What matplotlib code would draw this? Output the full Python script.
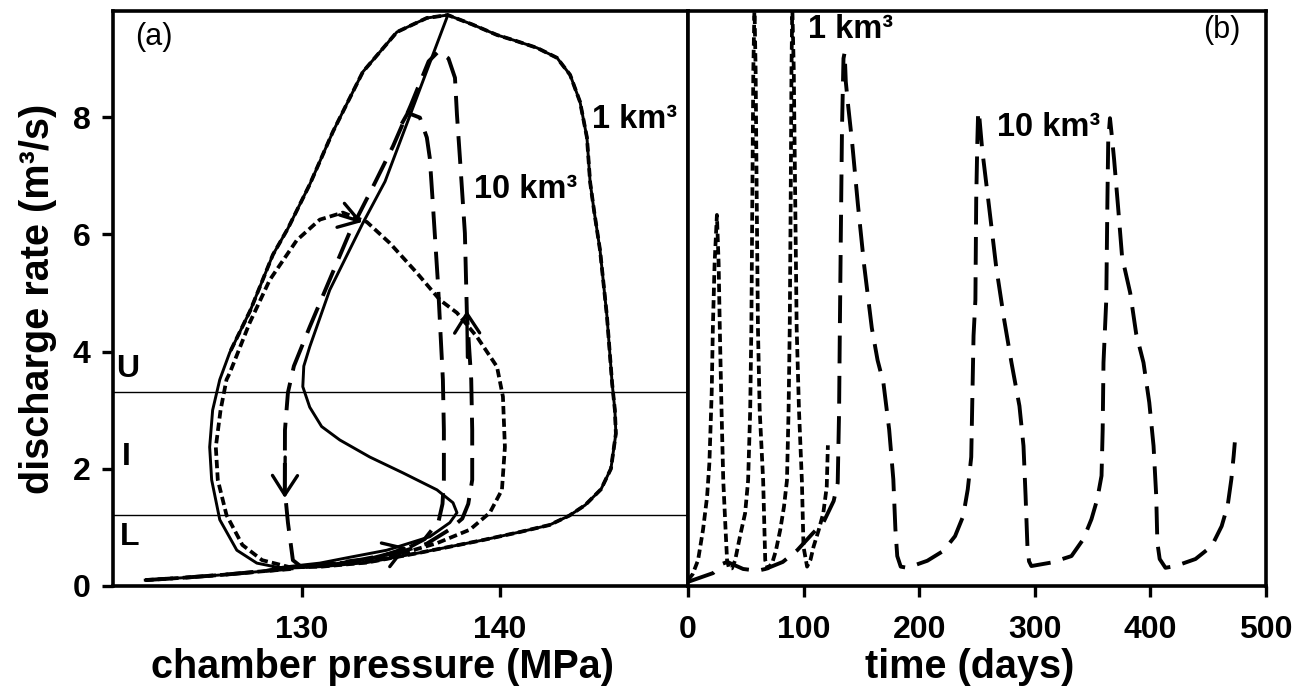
import numpy as np
import matplotlib
matplotlib.use("Agg")
import matplotlib.pyplot as plt

plt.rcParams["font.family"] = ["Liberation Sans", "DejaVu Sans"]
plt.rcParams["font.weight"] = "bold"
plt.rcParams["axes.labelweight"] = "bold"
plt.rcParams["lines.scale_dashes"] = False

# ---------- (a) phase plane: chamber pressure (MPa) vs discharge rate (m3/s) ----------
# slow recharge along the bottom of the plane
bottom_p = [122.1, 124.0, 126.0, 128.0, 129.5, 131.0, 133.3, 136.0, 139.1, 141.0, 142.5, 143.5, 144.3, 145.1, 145.6, 145.85]
bottom_q = [0.10, 0.14, 0.19, 0.25, 0.29, 0.33, 0.40, 0.57, 0.78, 0.92, 1.04, 1.20, 1.38, 1.65, 2.00, 2.60]
# right flank and top of the large cycle, ending at the peak
outer_p = [145.85, 145.8, 145.66, 145.4, 145.05, 144.75, 144.55, 144.39, 144.04, 143.54, 142.88, 141.87, 140.8, 139.85, 138.6, 137.37]
outer_q = [2.60, 3.00, 3.46, 4.60, 5.73, 6.40, 6.89, 7.65, 8.26, 8.72, 9.01, 9.18, 9.30, 9.40, 9.58, 9.74]
# left flank of the large cycle (peak back down to the bottom)
left_p = [137.37, 136.31, 134.80, 133.08, 131.57, 130.4, 129.3, 128.54, 127.4, 126.36, 125.86, 125.5, 125.35, 125.45, 125.86, 126.72, 127.73, 129.04]
left_q = [9.74, 9.69, 9.45, 8.77, 7.75, 6.85, 6.10, 5.65, 4.70, 3.98, 3.52, 3.00, 2.37, 1.81, 1.13, 0.61, 0.39, 0.30]
# solid run: start-up transient before joining the large cycle
trans_p = [129.04, 130.91, 132.27, 134.29, 136.46, 137.47, 137.83, 137.63, 136.82, 135.10, 133.43, 131.92, 131.0, 130.4, 130.05, 130.1, 130.40, 131.41, 133.08, 134.2, 137.37]
trans_q = [0.32, 0.39, 0.48, 0.61, 0.84, 1.08, 1.25, 1.42, 1.64, 1.93, 2.20, 2.49, 2.72, 3.05, 3.40, 3.75, 4.08, 5.05, 6.19, 6.90, 9.74]
# 1 km3 run: first small cycle and its inner left flank
small_p = [129.4, 131.0, 133.43, 135.10, 136.82, 138.48, 139.49, 140.10, 140.25, 140.15, 139.85, 138.84, 137.83, 136.97, 135.81, 134.44, 133.28, 132.07, 130.91, 129.75, 128.38, 127.37, 126.36]
small_q = [0.32, 0.36, 0.44, 0.56, 0.73, 0.96, 1.25, 1.64, 2.37, 3.23, 3.74, 4.25, 4.66, 4.88, 5.34, 5.85, 6.21, 6.37, 6.25, 5.90, 5.22, 4.49, 3.63]
inner_p = [126.2, 125.9, 125.66, 125.76, 126.2, 127.0, 128.0, 129.4]
inner_q = [3.52, 3.00, 2.37, 1.81, 1.21, 0.70, 0.44, 0.32]
# 10 km3 run: two rising branches and the shared falling diagonal
rise1_p = [122.1, 124.0, 126.0, 128.0, 129.5, 131.0, 133.0, 135.0, 136.3, 137.4, 138.1, 138.4, 138.6, 138.6, 138.55, 138.33, 138.23, 137.98, 137.83, 137.73, 137.4, 136.9]
rise1_q = [0.10, 0.14, 0.19, 0.25, 0.30, 0.36, 0.45, 0.58, 0.72, 0.95, 1.15, 1.40, 1.81, 2.66, 3.52, 4.66, 6.02, 7.30, 8.04, 8.67, 9.00, 9.12]
diag_p = [136.4, 135.5, 134.6, 133.59, 132.4, 131.4, 130.4, 129.6, 129.3, 129.15, 129.14, 129.3, 129.55, 130.0]
diag_q = [8.95, 8.20, 7.50, 6.81, 6.02, 5.22, 4.42, 3.75, 3.30, 2.66, 1.64, 1.08, 0.44, 0.32]
rise2_p = [131.5, 133.5, 135.2, 136.2, 136.9, 137.1, 137.17, 137.17, 137.12, 136.87, 136.6, 136.46, 136.31, 135.96, 135.35, 134.9]
rise2_q = [0.36, 0.47, 0.62, 0.80, 1.10, 1.40, 1.81, 2.66, 3.52, 5.17, 6.59, 7.30, 7.65, 7.99, 8.07, 7.80]

U_LEVEL = 3.31
L_LEVEL = 1.21

# ---------- (b) discharge rate through time ----------
t_1km = [0, 4, 8.7, 13, 16.5, 18.5, 20.5, 21.5, 23, 25, 26.5, 27.5, 29, 30.5, 32.5, 33.8, 35.5,
         38, 40.8, 45, 49.4, 52, 53.8, 54.8, 55.6, 56.5, 57.5, 58.5, 59.5, 60.5, 62, 65, 66.8, 69,
         72.8, 76, 79.8, 83, 85.6, 87, 88, 88.8, 89.5, 90.2, 91.5, 92.8, 94, 96, 98.5, 99.9, 103,
         106, 108.6, 113, 117, 120, 121]
q_1km = [0.10, 0.20, 0.44, 0.96, 1.52, 2.10, 3.30, 4.40, 5.50, 6.33, 5.50, 4.40, 3.00, 1.80, 0.96, 0.44, 0.30,
         0.30, 0.44, 0.85, 1.24, 1.80, 3.00, 4.40, 6.50, 8.80, 9.90, 8.80, 6.50, 4.40, 3.00, 1.80, 0.44, 0.30,
         0.39, 0.60, 0.96, 1.35, 1.80, 3.00, 4.40, 6.50, 8.80, 9.90, 8.80, 6.50, 4.40, 3.00, 1.80, 0.67, 0.33,
         0.45, 0.67, 0.95, 1.24, 1.69, 2.40]
t_10km = [0, 21.7, 30, 34, 47.7, 60, 67, 82, 94.5, 108, 117, 126, 129.5, 130.7, 131.3, 132.2, 133.2, 134.5, 135.5,
          136.5, 138.5, 142, 147, 152.3, 159, 164, 169, 174, 177.6, 179.4, 181, 184, 189.7, 207, 221, 231, 238,
          242, 245, 246, 247, 248.6, 249.3, 250.3, 251, 252, 254.5, 259.7, 266.6, 273.5, 279.8, 286.7, 290.2,
          292, 293.6, 295, 297, 314.4, 331.7, 342, 349, 354, 357.7, 358.7, 359.4, 361.8, 362.8, 363.5, 365,
          366.5, 368.6, 372, 375.5, 382.5, 387.7, 394, 399, 402.7, 405, 406, 408, 413, 421.7, 439, 453, 461.6,
          466.8, 470, 472, 473]
q_10km = [0.07, 0.22, 0.38, 0.41, 0.29, 0.26, 0.29, 0.41, 0.61, 0.90, 1.08, 1.45, 1.76, 3.00, 4.30, 6.00, 7.80, 9.00, 9.10,
          8.60, 8.20, 7.56, 6.50, 5.48, 4.40, 3.85, 3.47, 2.67, 1.82, 0.97, 0.51, 0.33, 0.31, 0.43, 0.60, 0.85, 1.19,
          1.65, 2.20, 3.24, 4.27, 4.88, 6.59, 7.60, 8.10, 8.00, 7.44, 6.59, 5.44, 4.54, 3.81, 3.07, 2.39,
          1.54, 0.68, 0.42, 0.34, 0.40, 0.51, 0.80, 1.14, 1.48, 1.88, 2.67, 3.81, 4.88, 6.59, 7.60, 7.98,
          7.70, 7.27, 6.47, 5.61, 5.00, 4.30, 3.81, 3.13, 2.39, 1.54, 0.74, 0.46, 0.31, 0.34, 0.46, 0.68, 1.02,
          1.37, 1.82, 2.22, 2.45]

SOLID = dict(color="k", lw=2.1, solid_joinstyle="round")
SHORT = dict(color="k", lw=2.7, dashes=(6, 3))
LONG = dict(color="k", lw=2.8, dashes=(20, 9))


def join(*parts):
    return np.concatenate([np.asarray(p, float) for p in parts])


fig = plt.figure(figsize=(13.06, 6.88), dpi=100)
axa = fig.add_axes([0.0865, 0.1483, 0.4403, 0.8358])
axb = fig.add_axes([0.5268, 0.1483, 0.4426, 0.8358])

# solid run: recharge, transient, then once round the large cycle
solid_p = join(bottom_p[:4], trans_p, left_p[1:], bottom_p[5:], outer_p[1:])
solid_q = join(bottom_q[:4], trans_q, left_q[1:], bottom_q[5:], outer_q[1:])
axa.plot(solid_p, solid_q, **SOLID)

# 1 km3 run: small cycle, then the large cycle (each stretch drawn once)
short_p = join(bottom_p[:5], small_p, inner_p, bottom_p[5:], outer_p[1:], left_p[1:10])
short_q = join(bottom_q[:5], small_q, inner_q, bottom_q[5:], outer_q[1:], left_q[1:10])
axa.plot(short_p, short_q, **SHORT)

# 10 km3 run: first rise and fall, then the later rising branch
axa.plot(join(rise1_p, diag_p), join(rise1_q, diag_q), **LONG)
axa.plot(rise2_p, rise2_q, **LONG)

axa.axhline(U_LEVEL, color="k", lw=1.0)
axa.axhline(L_LEVEL, color="k", lw=1.0)

arrow = dict(arrowstyle="->,head_length=0.7,head_width=0.45", lw=2.4, color="k",
             mutation_scale=20, shrinkA=0, shrinkB=0)
for tip, tail in [((129.14, 1.50), (129.16, 2.20)),
                  ((138.33, 4.70), (138.36, 3.90)),
                  ((133.05, 6.21), (131.9, 6.33)),
                  ((135.3, 0.66), (133.8, 0.48))]:
    axa.annotate("", xy=tip, xytext=tail, arrowprops=arrow)

axa.text(122.55, 9.37, "(a)", fontsize=22, fontweight="normal", ha="center", va="center")
axa.text(144.65, 7.95, "1 km³", fontsize=23.5, ha="left", va="center")
axa.text(138.7, 6.76, "10 km³", fontsize=23.5, ha="left", va="center")
axa.text(121.2, 3.70, "U", fontsize=23, ha="center", va="center")
axa.text(121.16, 2.20, "I", fontsize=23, ha="center", va="center")
axa.text(121.3, 0.84, "L", fontsize=23, ha="center", va="center")

axb.plot(t_1km, q_1km, **SHORT)
axb.plot(t_10km, q_10km, **LONG)
axb.text(462, 9.49, "(b)", fontsize=22, fontweight="normal", ha="center", va="center")
axb.text(103.8, 9.49, "1 km³", fontsize=23.5, ha="left", va="center")
axb.text(267.3, 7.82, "10 km³", fontsize=23.5, ha="left", va="center")

axa.set_xlim(120.47, 149.49)
axb.set_xlim(0, 500)
for ax in (axa, axb):
    ax.set_ylim(0, 9.81)
    for s in ax.spines.values():
        s.set_linewidth(2.6)
    ax.tick_params(direction="out", length=8, width=2.4, labelsize=23)
    ax.tick_params(axis="x", pad=13)
    ax.tick_params(axis="y", pad=8)

axa.set_xticks([130, 140])
axa.set_yticks([0, 2, 4, 6, 8])
axb.set_xticks([0, 100, 200, 300, 400, 500])
axb.set_yticks([])

axa.set_xlabel("chamber pressure (MPa)", fontsize=28.5, fontweight="bold")
axa.xaxis.set_label_coords(0.468, -0.108)
axb.set_xlabel("time (days)", fontsize=28.5, fontweight="bold")
axb.xaxis.set_label_coords(0.488, -0.108)
axa.set_ylabel("discharge rate (m³/s)", fontsize=28.5, fontweight="bold")
axa.yaxis.set_label_coords(-0.097, 0.5)

fig.savefig("out.png", dpi=100)
